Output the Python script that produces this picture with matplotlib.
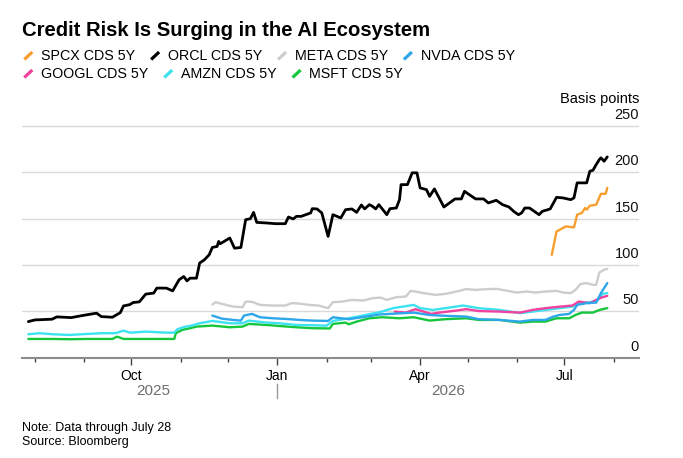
import matplotlib
matplotlib.use("Agg")
import matplotlib.pyplot as plt
import matplotlib.dates as mdates
import matplotlib.transforms as mtransforms
from matplotlib.lines import Line2D
import pandas as pd

plt.rcParams['font.family'] = ['Liberation Sans', 'DejaVu Sans']

# ---------------- data ----------------
orcl_dates = ["2025-07-28","2025-08-01","2025-08-12","2025-08-15","2025-08-24","2025-08-31","2025-09-09","2025-09-12",
              "2025-09-19","2025-09-24","2025-09-26","2025-09-30","2025-10-02","2025-10-06","2025-10-10","2025-10-15",
              "2025-10-17","2025-10-23","2025-10-27","2025-10-31","2025-11-03","2025-11-05","2025-11-07","2025-11-11",
              "2025-11-13","2025-11-16","2025-11-19","2025-11-21","2025-11-24","2025-11-25","2025-11-26","2025-12-02",
              "2025-12-05","2025-12-09","2025-12-12","2025-12-15","2025-12-17","2025-12-19","2025-12-25","2025-12-31",
              "2026-01-06","2026-01-08","2026-01-11","2026-01-13","2026-01-16","2026-01-22","2026-01-23","2026-01-26",
              "2026-01-29","2026-02-02","2026-02-05","2026-02-10","2026-02-13","2026-02-17","2026-02-20","2026-02-23",
              "2026-02-25","2026-02-28","2026-03-02","2026-03-04","2026-03-06","2026-03-11","2026-03-13","2026-03-17",
              "2026-03-19","2026-03-20","2026-03-24","2026-03-27","2026-03-30","2026-04-01","2026-04-05","2026-04-07",
              "2026-04-10","2026-04-13","2026-04-16","2026-04-23","2026-04-27","2026-04-29","2026-05-02","2026-05-06",
              "2026-05-11","2026-05-14","2026-05-19","2026-05-23","2026-05-27","2026-05-30","2026-06-02","2026-06-04",
              "2026-06-06","2026-06-09","2026-06-12","2026-06-15","2026-06-17","2026-06-22","2026-06-26","2026-06-30",
              "2026-07-05","2026-07-07","2026-07-09","2026-07-15","2026-07-17","2026-07-19","2026-07-21","2026-07-23",
              "2026-07-24","2026-07-26","2026-07-28"]
orcl_values = [38.9,40.7,41.5,44.0,43.2,45.4,48.0,44.3,
               43.6,48.6,55.8,57.2,59.4,60.2,68.5,69.6,
               75.0,75.0,72.0,83.9,87.5,82.8,85.7,85.7,
               102.0,105.5,110.9,118.8,119.9,125.3,122.8,129.0,
               118.0,118.8,148.7,149.8,156.6,145.8,145.2,144.4,
               144.4,151.6,149.5,152.3,152.3,156.0,160.6,160.3,
               156.0,130.7,154.1,150.6,159.5,160.3,156.6,164.6,
               160.3,164.9,163.1,160.3,164.9,154.1,160.6,161.3,
               170.3,186.5,186.5,199.2,199.2,183.0,181.1,173.9,
               181.9,172.2,162.4,171.1,171.1,179.3,175.7,171.1,
               171.1,166.8,169.6,164.9,162.4,157.7,154.1,156.0,
               161.3,161.3,157.7,154.1,157.7,160.3,172.8,172.2,
               170.3,172.2,188.4,188.4,200.9,202.0,208.1,213.5,
               215.4,211.7,216.4]

spcx_dates = ["2026-06-23","2026-06-26","2026-06-30","2026-07-02","2026-07-07","2026-07-09","2026-07-12",
              "2026-07-14","2026-07-15","2026-07-17","2026-07-21","2026-07-24","2026-07-27","2026-07-28"]
spcx_values = [110.9,136.0,139.7,141.5,140.4,154.1,156.0,161.3,159.5,163.8,164.9,176.6,176.6,183.0]

meta_dates = ["2025-11-21","2025-11-23","2025-11-27","2025-12-04","2025-12-10","2025-12-12","2025-12-16","2025-12-21",
              "2025-12-29","2026-01-06","2026-01-10","2026-01-15","2026-01-21","2026-01-27","2026-02-02","2026-02-05",
              "2026-02-11","2026-02-17","2026-02-24","2026-03-02","2026-03-07","2026-03-11","2026-03-17","2026-03-23",
              "2026-03-26","2026-03-29","2026-04-03","2026-04-11","2026-04-17","2026-04-24","2026-04-30","2026-05-06",
              "2026-05-13","2026-05-19","2026-05-25","2026-06-01","2026-06-07","2026-06-13","2026-06-19","2026-06-26",
              "2026-06-30","2026-07-05","2026-07-08","2026-07-11","2026-07-15","2026-07-19","2026-07-21","2026-07-23",
              "2026-07-26","2026-07-28"]
meta_values = [57.2,59.8,58.0,55.1,54.4,60.5,60.2,56.9,
               56.2,56.2,58.8,58.3,56.9,56.2,53.4,59.8,
               60.5,62.3,61.6,64.1,64.8,62.3,65.2,65.9,
               72.0,71.3,69.6,67.7,68.8,71.3,73.9,73.1,
               73.9,74.2,72.4,70.2,71.3,70.2,71.3,72.0,
               70.2,69.6,73.1,79.3,80.4,78.5,78.5,91.8,
               94.7,95.8]

nvda_dates = ["2025-11-21","2025-11-23","2025-11-27","2025-12-04","2025-12-09","2025-12-11","2025-12-16","2025-12-21",
              "2025-12-29","2026-01-06","2026-01-15","2026-01-23","2026-02-02","2026-02-05","2026-02-15","2026-02-26",
              "2026-03-06","2026-03-16","2026-03-28","2026-04-07","2026-04-19","2026-04-30","2026-05-08","2026-05-21",
              "2026-06-03","2026-06-11","2026-06-19","2026-06-24","2026-06-28","2026-07-04","2026-07-07","2026-07-09",
              "2026-07-15","2026-07-21","2026-07-24","2026-07-28"]
nvda_values = [45.4,44.3,42.1,40.7,40.0,45.4,47.2,43.6,
               42.5,41.8,40.7,40.0,39.6,43.6,41.5,44.3,
               46.5,47.5,48.6,46.0,45.0,44.3,41.5,40.7,
               38.9,40.7,40.7,44.3,46.1,47.2,51.5,56.9,
               58.8,59.4,69.6,80.4]

googl_dates = ["2026-03-16","2026-03-23","2026-03-29","2026-04-01","2026-04-08","2026-04-13","2026-04-24","2026-04-30",
               "2026-05-08","2026-05-21","2026-06-03","2026-06-11","2026-06-19","2026-06-28","2026-07-06","2026-07-10",
               "2026-07-17","2026-07-22","2026-07-25","2026-07-28"]
googl_values = [49.7,48.6,52.3,50.8,47.2,48.6,50.8,52.3,
                50.3,49.7,48.6,51.5,53.4,55.0,56.2,60.5,
                58.8,63.1,65.2,66.6]

amzn_dates = ["2025-07-28","2025-08-04","2025-08-12","2025-08-23","2025-09-03","2025-09-13","2025-09-21","2025-09-26",
              "2025-09-30","2025-10-10","2025-10-23","2025-10-28","2025-10-30","2025-11-04","2025-11-07","2025-11-13",
              "2025-11-21","2025-12-02","2025-12-10","2025-12-14","2025-12-23","2026-01-02","2026-01-13","2026-01-23",
              "2026-02-01","2026-02-05","2026-02-15","2026-02-26","2026-03-08","2026-03-15","2026-03-28","2026-04-01",
              "2026-04-09","2026-04-17","2026-04-28","2026-05-08","2026-05-21","2026-06-03","2026-06-11","2026-06-19",
              "2026-06-28","2026-07-06","2026-07-10","2026-07-17","2026-07-22","2026-07-25","2026-07-28"]
amzn_values = [25.3,26.4,25.3,24.5,25.6,26.4,26.4,29.2,
               27.0,28.1,27.0,27.0,30.7,33.5,34.2,37.1,
               39.6,37.1,37.1,40.0,38.2,37.1,35.3,35.0,
               34.5,39.6,42.5,46.1,49.7,53.4,56.9,53.4,
               51.5,53.4,56.2,53.4,51.5,48.0,49.7,51.5,
               53.4,55.0,59.4,59.4,62.3,68.8,69.6]

msft_dates = ["2025-07-28","2025-08-12","2025-08-23","2025-09-03","2025-09-19","2025-09-22","2025-09-26","2025-10-15",
              "2025-10-28","2025-10-29","2025-11-02","2025-11-07","2025-11-11","2025-11-21","2025-12-02","2025-12-10",
              "2025-12-14","2025-12-25","2026-01-02","2026-01-13","2026-01-23","2026-02-03","2026-02-05","2026-02-13",
              "2026-02-15","2026-02-20","2026-02-28","2026-03-08","2026-03-19","2026-03-28","2026-04-07","2026-04-17",
              "2026-04-30","2026-05-08","2026-05-21","2026-06-03","2026-06-11","2026-06-19","2026-06-26","2026-07-04",
              "2026-07-08","2026-07-12","2026-07-19","2026-07-22","2026-07-25","2026-07-28"]
msft_values = [20.2,20.2,19.9,20.2,20.2,22.7,20.2,20.2,
               20.2,26.4,29.9,31.8,33.5,34.6,32.8,33.5,
               36.4,35.3,34.2,32.8,31.8,31.5,36.4,37.8,
               36.0,38.9,42.5,43.6,42.5,43.6,40.0,41.5,
               42.5,40.7,40.7,37.8,38.9,38.9,42.5,42.5,
               46.1,48.6,48.6,50.8,52.3,53.4]

legend_names = ["SPCX CDS 5Y", "ORCL CDS 5Y", "META CDS 5Y", "NVDA CDS 5Y",
                "GOOGL CDS 5Y", "AMZN CDS 5Y", "MSFT CDS 5Y"]
y_ticks = [0, 50, 100, 150, 200, 250]

# ---------------- styling ----------------
colors = {"SPCX CDS 5Y": "#F89E2E", "ORCL CDS 5Y": "#000000", "META CDS 5Y": "#CDCDCD",
          "NVDA CDS 5Y": "#2EA6EA", "GOOGL CDS 5Y": "#F0429E", "AMZN CDS 5Y": "#3CE2F0",
          "MSFT CDS 5Y": "#16C73E"}
series = {"SPCX CDS 5Y": (spcx_dates, spcx_values), "ORCL CDS 5Y": (orcl_dates, orcl_values),
          "META CDS 5Y": (meta_dates, meta_values), "NVDA CDS 5Y": (nvda_dates, nvda_values),
          "GOOGL CDS 5Y": (googl_dates, googl_values), "AMZN CDS 5Y": (amzn_dates, amzn_values),
          "MSFT CDS 5Y": (msft_dates, msft_values)}

W, H = 683, 458
fig = plt.figure(figsize=(W / 100, H / 100), dpi=100)
ymax = 255
ax_h = 232 * ymax / 250
ax = fig.add_axes([22 / W, 1 - 357.7 / H, (639 - 22) / W, ax_h / H])

for name in reversed(legend_names):
    d, v = series[name]
    lw = 2.0 if name == "ORCL CDS 5Y" else 1.7
    ax.plot(pd.to_datetime(d), v, color=colors[name], lw=lw,
            solid_joinstyle='round', solid_capstyle='round')

ax.set_xlim(pd.Timestamp("2025-07-24"), pd.Timestamp("2026-08-17"))
ax.set_ylim(0, ymax)
ax.set_yticks(y_ticks)
ax.grid(axis='y', color='#d9d9d9', lw=1.0)
ax.set_axisbelow(True)
ax.tick_params(axis='y', length=0, labelleft=False)
for s in ['top', 'left', 'right']:
    ax.spines[s].set_visible(False)
ax.spines['bottom'].set_color('#8c8c8c')
ax.spines['bottom'].set_linewidth(1.5)

ax.xaxis.set_major_locator(mdates.MonthLocator(bymonth=[1, 4, 7, 10]))
ax.xaxis.set_major_formatter(mdates.DateFormatter('%b'))
ax.xaxis.set_minor_locator(mdates.MonthLocator())
ax.tick_params(axis='x', which='major', length=5, width=1, color='#444444', labelsize=10, pad=3)
ax.tick_params(axis='x', which='minor', length=3, width=1, color='#444444')

# y labels inside on the right, above the gridlines
trans = mtransforms.blended_transform_factory(ax.transAxes, ax.transData)
trans_off = mtransforms.offset_copy(trans, fig=fig, x=0, y=7, units='dots')
for v in y_ticks:
    ax.text(1.0, v, str(v), transform=trans_off, ha='right', va='baseline', fontsize=10.5, color='#111111')

# year labels + separator
ytr = mtransforms.blended_transform_factory(ax.transData, ax.transAxes)
yr_y = (357.7 - 391) / ax_h
ax.text(pd.Timestamp("2025-10-15"), yr_y, "2025", transform=ytr, ha='center', va='center',
        fontsize=11, color='#6e6e6e')
ax.text(pd.Timestamp("2026-04-19"), yr_y, "2026", transform=ytr, ha='center', va='center',
        fontsize=11, color='#6e6e6e')
sep_x = mdates.date2num(pd.Timestamp("2026-01-01"))
ax.add_line(Line2D([sep_x, sep_x], [(357.7 - 384) / ax_h, (357.7 - 398) / ax_h], transform=ytr,
                   color='#9a9a9a', lw=1, clip_on=False))

# title, unit, notes
fig.text(22 / W, 1 - 36.5 / H, "Credit Risk Is Surging in the AI Ecosystem", fontsize=14.6,
         fontweight='bold', ha='left', va='baseline')
fig.text(639 / W, 1 - 103 / H, "Basis points", fontsize=10.5, ha='right', va='baseline')
fig.text(22 / W, 1 - 431 / H, "Note: Data through July 28", fontsize=9, ha='left', va='baseline')
fig.text(22 / W, 1 - 445 / H, "Source: Bloomberg", fontsize=9, ha='left', va='baseline')

# legend (flowing rows with slanted swatches)
renderer = fig.canvas.get_renderer()
rows = [legend_names[:4], legend_names[4:]]
row_centers = [55.5, 73.5]
for row, yc in zip(rows, row_centers):
    x = 28.3
    for name in row:
        fig.add_artist(Line2D([(x - 4) / W, (x + 4) / W], [1 - (yc + 4) / H, 1 - (yc - 3.5) / H],
                              transform=fig.transFigure, color=colors[name], lw=2.3,
                              solid_capstyle='butt'))
        t = fig.text((x + 12.7) / W, 1 - (yc + 4.8) / H, name, fontsize=10.3, ha='left', va='baseline')
        bb = t.get_window_extent(renderer)
        x = bb.x1 + 20

fig.savefig("out.png", dpi=100)
